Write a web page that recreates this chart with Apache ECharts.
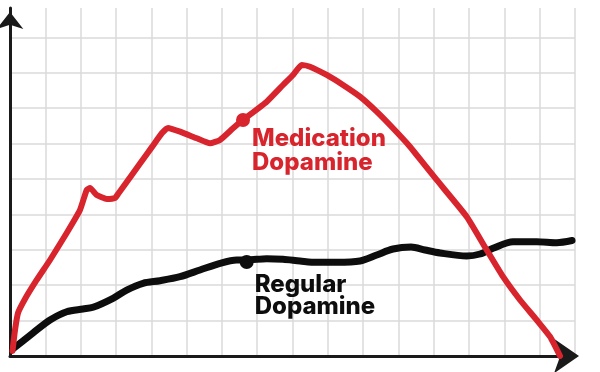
<!DOCTYPE html>
<html>
<head>
<meta charset="utf-8">
<script src="https://cdn.jsdelivr.net/npm/echarts@6/dist/echarts.min.js"></script>
<style>html,body{margin:0;padding:0;background:#fff}#c{width:600px;height:372px}</style>
</head>
<body>
<div id="c"></div>
<script>
// Medication Dopamine (x, y) in grid units
const medicationX = [0.071,0.142,0.227,0.425,0.756,1.133,1.606,1.982,2.172,2.266,2.455,2.739,2.974,3.059,3.398,3.682,4.022,4.305,4.475,4.815,5.287,5.664,5.947,6.316,6.599,7.270,7.732,8.015,8.261,8.496,8.969,9.431,9.912,10.385,10.847,11.328,11.696,12.084,12.934,13.500,13.962,14.443,14.916,15.293,15.576];
const medicationY = [0.141,0.734,1.215,1.610,2.147,2.712,3.475,4.124,4.689,4.746,4.548,4.435,4.463,4.576,5.045,5.438,5.907,6.299,6.441,6.336,6.150,6.008,6.102,6.432,6.667,7.184,7.655,7.938,8.220,8.172,7.938,7.655,7.325,6.901,6.432,5.912,5.452,4.972,3.935,2.994,2.240,1.582,1.017,0.545,0.0];
// Regular Dopamine
const regularX = [0.076,0.651,1.133,1.606,2.067,2.351,2.917,3.305,3.767,4.248,4.815,5.381,5.947,6.420,6.703,7.270,7.732,8.213,8.686,9.252,9.912,10.385,10.847,11.357,11.753,12.178,12.934,13.311,13.679,14.246,14.916,15.483,15.916];
const regularY = [0.198,0.650,1.017,1.251,1.328,1.376,1.630,1.864,2.054,2.127,2.240,2.429,2.619,2.712,2.712,2.749,2.732,2.684,2.647,2.647,2.684,2.853,3.023,3.079,2.994,2.910,2.825,2.881,3.042,3.229,3.229,3.201,3.263];
// label anchor points
const medicationLabel = ["Medication", "Dopamine"];
const medicationDot = [6.599, 6.667];
const regularLabel = ["Regular", "Dopamine"];
const regularDot = [6.703, 2.655];

const RED = '#d7242d', BLACK = '#0d0d0d';
const zip = (xs, ys) => xs.map((x, i) => [x, ys[i]]);

const chart = echarts.init(document.getElementById('c'), null, {renderer: 'canvas'});
chart.setOption({
  animation: false,
  grid: {left: 10, right: 25, top: 8, bottom: 16, containLabel: false},
  xAxis: {
    type: 'value', min: 0, max: 16, interval: 1,
    axisLabel: {show: false}, axisTick: {show: false},
    axisLine: {show: true, lineStyle: {color: '#1a1a1a', width: 3}, symbol: ['none', 'arrow'], symbolSize: [26, 25], symbolOffset: [0, 4]},
    splitLine: {show: true, showMinLine: false, lineStyle: {color: '#dadada', width: 1.5}}
  },
  yAxis: {
    type: 'value', min: 0, max: 9.83, interval: 1,
    axisLabel: {show: false}, axisTick: {show: false},
    axisLine: {show: true, lineStyle: {color: '#1a1a1a', width: 3}, symbol: ['none', 'arrow'], symbolSize: [20, 17], symbolOffset: [0, -4]},
    splitLine: {show: true, showMinLine: false, showMaxLine: false, lineStyle: {color: '#dadada', width: 1.5}}
  },
  series: [
    {
      type: 'line', data: zip(regularX, regularY), smooth: 0.3, showSymbol: false, z: 3,
      lineStyle: {color: BLACK, width: 7, cap: 'round', join: 'round'}
    },
    {
      type: 'line', data: zip(medicationX, medicationY), smooth: 0.15, showSymbol: false, z: 4,
      lineStyle: {color: RED, width: 6, cap: 'round', join: 'round'}
    },
    {
      type: 'scatter', data: [regularDot], symbolSize: 14, z: 5,
      itemStyle: {color: BLACK, opacity: 1},
      label: {show: true, position: [15, 19], align: 'left', verticalAlign: 'top',
        formatter: regularLabel.join('\n'), color: BLACK, fontFamily: 'Inter', fontWeight: 800, fontSize: 24, lineHeight: 22}
    },
    {
      type: 'scatter', data: [medicationDot], symbolSize: 14, z: 5,
      itemStyle: {color: RED, opacity: 1},
      label: {show: true, position: [16, 14], align: 'left', verticalAlign: 'top',
        formatter: medicationLabel.join('\n'), color: RED, fontFamily: 'Inter', fontWeight: 800, fontSize: 24, lineHeight: 24}
    }
  ]
});
</script>
</body>
</html>
